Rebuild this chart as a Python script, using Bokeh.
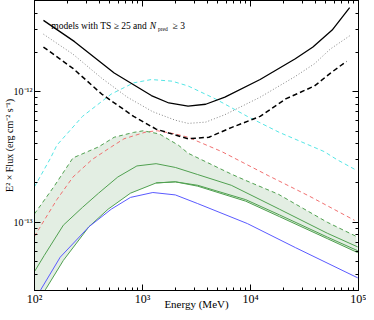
from bokeh.plotting import figure
from bokeh.models import FixedTicker, LogAxis, Label
from bokeh.embed import file_html
from bokeh.resources import INLINE

# ---- axis ticks ----
energy_ticks = [100, 1000, 10000, 100000]
energy_tick_labels = ["10²", "10³", "10⁴", "10⁵"]
energy_minor = [m * 10 ** d for d in (2, 3, 4) for m in range(2, 10)]
flux_ticks = [1e-13, 1e-12]
flux_tick_labels = ["10⁻¹³", "10⁻¹²"]
flux_minor = [m * 1e-14 for m in range(3, 10)] + [m * 1e-13 for m in range(2, 10)] + [m * 1e-12 for m in range(2, 6)]

# ---- sensitivity curves (black) ----
sens_solid_E = [121, 235, 547, 1208, 1754, 2642, 3846, 5794, 12274, 26002, 37844, 57016, 82794]
sens_solid_F = [3.52e-12, 2.42e-12, 1.39e-12, 9.35e-13, 8.2e-13, 7.76e-13, 8.02e-13, 9.08e-13,
                1.24e-12, 1.79e-12, 2.20e-12, 2.97e-12, 4.41e-12]
sens_dot_E = [121, 227, 419, 724, 1240, 2014, 2642, 3846, 5794, 12274, 26002, 39170, 54702, 82794]
sens_dot_F = [2.76e-12, 1.94e-12, 1.27e-12, 9.08e-13, 7.04e-13, 6.05e-13, 5.72e-13, 5.85e-13,
              6.67e-13, 9.08e-13, 1.31e-12, 1.64e-12, 2.12e-12, 2.68e-12]
sens_dash_E = [121, 227, 419, 828, 1337, 2642, 4121, 6637, 12274, 21184, 39170, 55080, 77446]
sens_dash_F = [2.20e-12, 1.51e-12, 9.6e-13, 6.47e-13, 5.17e-13, 4.36e-13, 4.48e-13, 5.31e-13,
               6.47e-13, 8.82e-13, 1.107e-12, 1.39e-12, 1.71e-12]

# ---- model spectra ----
cyan_E = [100, 141, 161, 278, 514, 828, 1208, 1879, 2642, 4721, 9354, 18493, 48084, 63096, 95060]
cyan_F = [1.87e-13, 3.11e-13, 3.89e-13, 6.47e-13, 9.6e-13, 1.17e-12, 1.24e-12, 1.205e-12,
          1.107e-12, 8.82e-13, 6.47e-13, 4.88e-13, 3.48e-13, 3.02e-13, 2.51e-13]
red_E = [100, 123, 161, 227, 341, 514, 674, 1089, 1380, 2014, 2642, 5408, 14555, 35318, 91833]
red_F = [7.8e-14, 1.035e-13, 1.49e-13, 2.22e-13, 3.02e-13, 3.78e-13, 4.36e-13, 4.93e-13,
         5.02e-13, 4.75e-13, 4.48e-13, 3.48e-13, 2.28e-13, 1.58e-13, 1.035e-13]
band_hi_E = [100, 151, 227, 392, 547, 828, 1016, 1432, 2153, 2642, 6637, 9036, 18100, 51400, 95060]
band_hi_F = [1.16e-13, 1.87e-13, 3.11e-13, 3.78e-13, 4.48e-13, 4.88e-13, 5.02e-13, 4.75e-13,
             3.89e-13, 3.38e-13, 2.34e-13, 2.09e-13, 1.64e-13, 1.0e-13, 7.8e-14]
band_lo_E = [100, 127, 185, 319, 481, 774, 1337, 2014, 3243, 9036, 18493, 51400, 98400]
band_lo_F = [2.2e-14, 3.07e-14, 5.1e-14, 9.23e-14, 1.26e-13, 1.67e-13, 2.0e-13, 2.04e-13,
             1.89e-13, 1.45e-13, 1.105e-13, 7.49e-14, 5.85e-14]
green_up_E = [100, 123, 185, 278, 392, 590, 887, 1337, 2014, 3243, 6637, 18493, 51400, 98400]
green_up_F = [4.19e-14, 5.56e-14, 9.5e-14, 1.30e-13, 1.67e-13, 2.22e-13, 2.70e-13, 2.81e-13,
              2.63e-13, 2.32e-13, 1.92e-13, 1.26e-13, 8.24e-14, 6.47e-14]
green_mid_E = [1337, 2014, 3243, 9036, 18493, 51400, 98400]
green_mid_F = [2.0e-13, 2.04e-13, 1.92e-13, 1.49e-13, 1.14e-13, 7.7e-14, 6.05e-14]
blue_E = [100, 115, 173, 319, 514, 774, 1247, 2014, 3243, 9354, 26002, 98400]
blue_F = [2.5e-14, 3.07e-14, 5.40e-14, 9.23e-14, 1.26e-13, 1.55e-13, 1.69e-13, 1.62e-13,
          1.39e-13, 9.77e-14, 6.4e-14, 3.75e-14]

x_title = "Energy (MeV)"
y_title = "E² × Flux (erg cm⁻² s⁻¹)"

FONT = "Liberation Serif"

p = figure(width=366, height=312, x_axis_type="log", y_axis_type="log",
           x_range=(100, 1e5), y_range=(3e-14, 5e-12),
           output_backend="svg", toolbar_location=None,
           min_border_left=0, min_border_right=8, min_border_top=0, min_border_bottom=0)
p.grid.visible = False
p.outline_line_color = "black"
p.outline_line_width = 1
p.background_fill_color = "white"
p.border_fill_color = "white"


def style_axis(ax, ticker, labels):
    ax.ticker = ticker
    ax.major_tick_in = 6
    ax.major_tick_out = 0
    ax.minor_tick_in = 3
    ax.minor_tick_out = 0
    ax.axis_line_color = "black"
    ax.major_tick_line_color = "black"
    ax.minor_tick_line_color = "black"
    ax.major_label_text_font = FONT
    ax.major_label_text_font_size = "10px"
    ax.major_label_text_color = "black"
    ax.axis_label_text_font = FONT
    ax.axis_label_text_font_style = "normal"
    ax.axis_label_text_color = "black"
    ax.major_label_overrides = labels


xlabels = {t: l for t, l in zip(energy_ticks, energy_tick_labels)}
ylabels = {t: l for t, l in zip(flux_ticks, flux_tick_labels)}
style_axis(p.xaxis[0], FixedTicker(ticks=energy_ticks, minor_ticks=energy_minor), xlabels)
style_axis(p.yaxis[0], FixedTicker(ticks=flux_ticks, minor_ticks=flux_minor), ylabels)
p.xaxis[0].major_label_text_font_size = "12px"
p.xaxis[0].major_label_standoff = 1
p.xaxis[0].axis_label = x_title
p.xaxis[0].axis_label_text_font_size = "11px"
p.xaxis[0].axis_label_standoff = -11
p.yaxis[0].major_label_standoff = 2
p.yaxis[0].axis_label = y_title
p.yaxis[0].axis_label_text_font_size = "10px"
p.yaxis[0].axis_label_standoff = -4

top_ax = LogAxis()
style_axis(top_ax, FixedTicker(ticks=energy_ticks, minor_ticks=energy_minor),
           {t: "" for t in energy_ticks})
top_ax.major_label_standoff = 0
p.add_layout(top_ax, "above")
right_ax = LogAxis()
style_axis(right_ax, FixedTicker(ticks=flux_ticks, minor_ticks=flux_minor),
           {t: "" for t in flux_ticks})
right_ax.major_label_standoff = 0
p.add_layout(right_ax, "right")

# band
p.patch(band_hi_E + band_lo_E[::-1], band_hi_F + band_lo_F[::-1],
        fill_color="#e3eee3", line_color=None)

# models
p.line(cyan_E, cyan_F, line_color="#55e5e5", line_width=1, line_dash="4 3")
p.line(red_E, red_F, line_color="#f07070", line_width=1, line_dash="4 3")
p.line(band_hi_E, band_hi_F, line_color="#50a050", line_width=1, line_dash="4 3")
p.line(green_up_E, green_up_F, line_color="#50a050", line_width=1)
p.line(green_mid_E, green_mid_F, line_color="#50a050", line_width=1)
p.line(band_lo_E, band_lo_F, line_color="#50a050", line_width=1)
p.line(blue_E, blue_F, line_color="#5a5aff", line_width=1)

# sensitivities
p.line(sens_solid_E, sens_solid_F, line_color="black", line_width=1.3)
p.line(sens_dot_E, sens_dot_F, line_color="#777777", line_width=0.9, line_dash="1 2")
p.line(sens_dash_E, sens_dash_F, line_color="black", line_width=1.5, line_dash="5 3")


# annotation text
def add_label(x, y, text, size="9.5px", style="normal"):
    p.add_layout(Label(x=x, y=y, text=text, text_font=FONT, text_font_size=size,
                       text_font_style=style, text_baseline="middle", text_align="left",
                       text_color="black"))


add_label(143, 3.2e-12, "models with TS ≥ 25 and")
add_label(1170, 3.2e-12, "N", style="italic")
add_label(1390, 3.0e-12, "pred", size="5.5px")
add_label(1900, 3.2e-12, "≥ 3")

open("out.html", "w").write(file_html(p, INLINE))
